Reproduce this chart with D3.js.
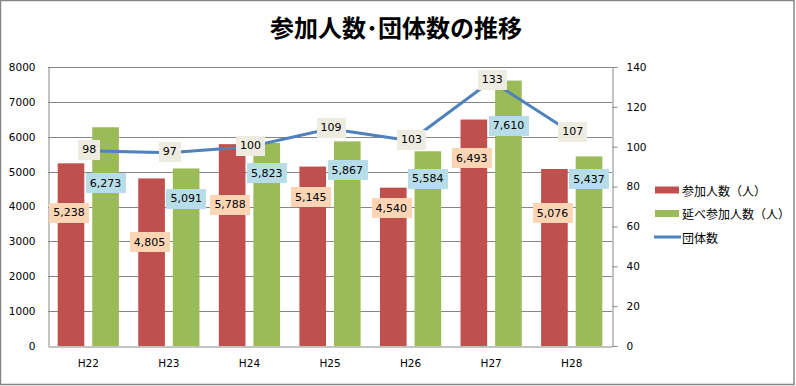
<!DOCTYPE html>
<html>
<head>
<meta charset="utf-8">
<script src="https://cdn.jsdelivr.net/npm/d3@7"></script>
<style>
  html, body { margin: 0; padding: 0; background: #fff; }
  svg { display: block; }
</style>
</head>
<body>
<svg id="chart"></svg>
<script>
// data
const years = ["H22", "H23", "H24", "H25", "H26", "H27", "H28"];
const participants = [5238, 4805, 5788, 5145, 4540, 6493, 5076];
const totalParticipants = [6273, 5091, 5823, 5867, 5584, 7610, 5437];
const groups = [98, 97, 100, 109, 103, 133, 107];
const leftTicks = [0, 1000, 2000, 3000, 4000, 5000, 6000, 7000, 8000];
const rightTicks = [0, 20, 40, 60, 80, 100, 120, 140];

// where the bar labels sit, as a share of the bar height (hand-placed in the original)
const redLabelAt = [0.73, 0.62, 0.70, 0.83, 0.87, 0.83, 0.75];
const greenLabelAt = [0.745, 0.83, 0.85, 0.86, 0.86, 0.83, 0.88];

const width = 796;
const height = 386;
const margin = { top: 67, right: 184, bottom: 40, left: 48 };

const red = "#C0504D";
const green = "#9BBB59";
const blue = "#4F81BD";
const gridColor = "#868686";
const numFont = "'DejaVu Sans', Verdana, sans-serif";
const jpFont = "'Noto Sans CJK JP', sans-serif";

const svg = d3.select("#chart")
    .attr("width", width)
    .attr("height", height);

// outer frame
svg.append("rect")
    .attr("x", 0.5)
    .attr("y", 0.5)
    .attr("width", 793.5)
    .attr("height", 384)
    .attr("fill", "#fff")
    .attr("stroke", gridColor)
    .attr("stroke-width", 1.5);

svg.append("text")
    .attr("x", 396)
    .attr("y", 37)
    .attr("text-anchor", "middle")
    .attr("font-family", jpFont)
    .attr("font-weight", "bold")
    .attr("font-size", "24px")
    .text("参加人数･団体数の推移");

const x0 = d3.scaleBand()
    .domain(years)
    .range([margin.left, width - margin.right]);

const x1 = d3.scaleBand()
    .domain(["p", "t"])
    .range([0, x0.bandwidth()])
    .paddingInner(0.23)
    .paddingOuter(0.28);

const yLeft = d3.scaleLinear()
    .domain([0, 8000])
    .range([height - margin.bottom, margin.top]);

const yRight = d3.scaleLinear()
    .domain([0, 140])
    .range([height - margin.bottom, margin.top]);

const plotRight = width - margin.right;
const plotBottom = height - margin.bottom;

// gridlines
svg.append("g")
    .selectAll("line")
    .data(leftTicks.filter(d => d > 0))
    .join("line")
    .attr("x1", margin.left)
    .attr("x2", plotRight)
    .attr("y1", d => Math.round(yLeft(d)) + 0.5)
    .attr("y2", d => Math.round(yLeft(d)) + 0.5)
    .attr("stroke", gridColor)
    .attr("stroke-width", 1);

// left axis
const leftAxis = svg.append("g")
    .attr("transform", `translate(${margin.left + 0.5},0)`)
    .call(d3.axisLeft(yLeft).tickValues(leftTicks).tickSize(0).tickPadding(13).tickFormat(d3.format("d")));
leftAxis.select(".domain").attr("stroke", gridColor);
leftAxis.selectAll("text")
    .attr("font-family", numFont)
    .attr("font-size", "10.5px")
    .attr("fill", "#000");

// right axis
const rightAxis = svg.append("g")
    .attr("transform", `translate(${plotRight + 0.5},0)`)
    .call(d3.axisRight(yRight).tickValues(rightTicks).tickSizeInner(5).tickSizeOuter(0).tickPadding(9));
rightAxis.select(".domain").attr("stroke", gridColor);
rightAxis.selectAll(".tick line").attr("stroke", gridColor);
rightAxis.selectAll("text")
    .attr("font-family", numFont)
    .attr("font-size", "10.5px")
    .attr("fill", "#000");

// bottom axis
const bottomAxis = svg.append("g")
    .attr("transform", `translate(0,${plotBottom + 0.5})`)
    .call(d3.axisBottom(x0).tickSize(0).tickPadding(13));
bottomAxis.select(".domain").attr("stroke", gridColor);
bottomAxis.selectAll("text")
    .attr("font-family", numFont)
    .attr("font-size", "10.5px")
    .attr("fill", "#000");

// bars
const rows = years.map((y, i) => ({
    year: y,
    p: participants[i],
    t: totalParticipants[i],
    g: groups[i],
    i
}));

svg.append("g")
    .selectAll("rect")
    .data(rows)
    .join("rect")
    .attr("x", d => x0(d.year) + x1("p"))
    .attr("width", x1.bandwidth())
    .attr("y", d => yLeft(d.p))
    .attr("height", d => plotBottom - yLeft(d.p))
    .attr("fill", red);

svg.append("g")
    .selectAll("rect")
    .data(rows)
    .join("rect")
    .attr("x", d => x0(d.year) + x1("t"))
    .attr("width", x1.bandwidth())
    .attr("y", d => yLeft(d.t))
    .attr("height", d => plotBottom - yLeft(d.t))
    .attr("fill", green);

// line
const line = d3.line()
    .x(d => x0(d.year) + x0.bandwidth() / 2)
    .y(d => yRight(d.g));

svg.append("path")
    .datum(rows)
    .attr("d", line)
    .attr("fill", "none")
    .attr("stroke", blue)
    .attr("stroke-width", 3)
    .attr("stroke-linejoin", "round");

// labels with filled boxes
function drawLabel(g, cx, cy, txt, bg) {
    const t = g.append("text")
        .attr("x", cx)
        .attr("y", cy)
        .attr("text-anchor", "middle")
        .attr("dominant-baseline", "central")
        .attr("font-family", numFont)
        .attr("font-size", "11px")
        .attr("fill", "#000")
        .text(txt);
    const bb = t.node().getBBox();
    g.insert("rect", "text")
        .attr("x", Math.round(cx - bb.width / 2 - 4))
        .attr("y", Math.round(cy - 10))
        .attr("width", Math.round(bb.width + 8))
        .attr("height", 20)
        .attr("fill", bg);
}

const fmt = d3.format(",");
rows.forEach(d => {
    const gr = svg.append("g");
    drawLabel(gr, x0(d.year) + x1("p") + x1.bandwidth() / 2 - 2,
        yLeft(d.p * redLabelAt[d.i]), fmt(d.p), "#FCD5B5");
    const gg = svg.append("g");
    drawLabel(gg, x0(d.year) + x1("t") + x1.bandwidth() / 2,
        yLeft(d.t * greenLabelAt[d.i]), fmt(d.t), "#B7DEE8");
});
rows.forEach(d => {
    const gl = svg.append("g");
    drawLabel(gl, x0(d.year) + x0.bandwidth() / 2 + 1, yRight(d.g) - 1, d.g, "#EEECE1");
});

// legend
const legendItems = [
    { name: "参加人数（人）", color: red, type: "bar" },
    { name: "延べ参加人数（人）", color: green, type: "bar" },
    { name: "団体数", color: blue, type: "line" }
];

const legend = svg.append("g")
    .attr("transform", "translate(655,190)");

legendItems.forEach((item, i) => {
    const row = legend.append("g").attr("transform", `translate(0,${i * 23.5})`);
    if (item.type === "bar") {
        row.append("rect")
            .attr("x", 0)
            .attr("y", -3.5)
            .attr("width", 24)
            .attr("height", 7)
            .attr("fill", item.color);
    } else {
        row.append("line")
            .attr("x1", -1)
            .attr("x2", 26)
            .attr("y1", 0)
            .attr("y2", 0)
            .attr("stroke", item.color)
            .attr("stroke-width", 3);
    }
    row.append("text")
        .attr("x", 27)
        .attr("y", 0)
        .attr("dominant-baseline", "central")
        .attr("font-family", jpFont)
        .attr("font-size", "12px")
        .attr("fill", "#000")
        .text(item.name);
});
</script>
</body>
</html>
